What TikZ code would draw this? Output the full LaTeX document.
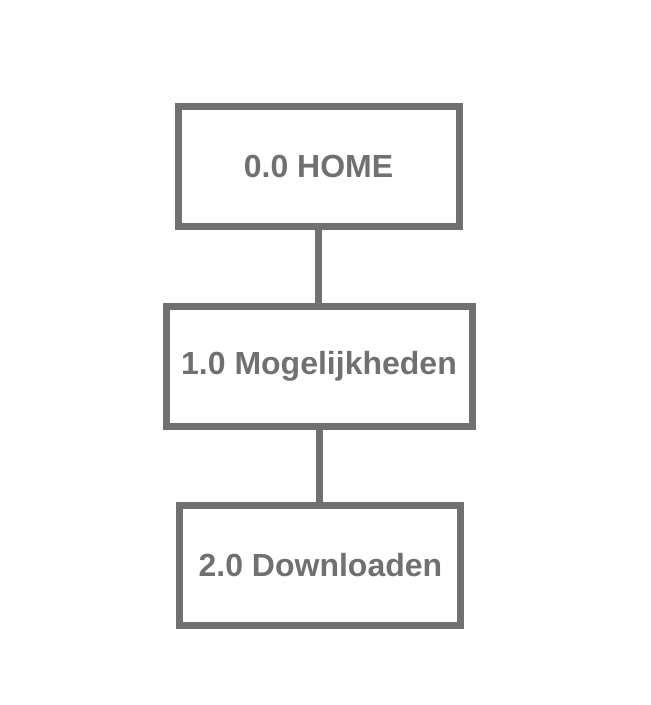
\documentclass[tikz,border=0pt]{standalone}
\usepackage{fontspec}
\setmainfont{Liberation Sans}
\definecolor{randgrau}{RGB}{112,112,112}
\tikzset{
	seite/.style={draw=randgrau, line width=5.25pt, text=randgrau, font=\fontsize{24}{28}\selectfont\bfseries, minimum height=90pt},
	verbindung/.style={draw=randgrau, line width=5.25pt}
}
\begin{document}
\begin{tikzpicture}[x=0.75pt, y=-0.75pt]
	\useasboundingbox (0,0) rectangle (650,705);
	
	%Seiten
	\node[seite, minimum width=210.75pt] (home) at (318.5,166.5) {0.0 HOME};
	\node[seite, minimum width=229.5pt] (moeglich) at (319,366.5) {1.0 Mogelijkheden};
	\node[seite, minimum width=210.75pt, minimum height=89.7pt] (download) at (320.4,565.5) {2.0 Downloaden};
	
	%Verbindungen
	\draw[verbindung] (home.south) -- (home.south |- moeglich.north);
	\draw[verbindung] (moeglich.south) -- (moeglich.south |- download.north);
	
\end{tikzpicture}
\end{document}
